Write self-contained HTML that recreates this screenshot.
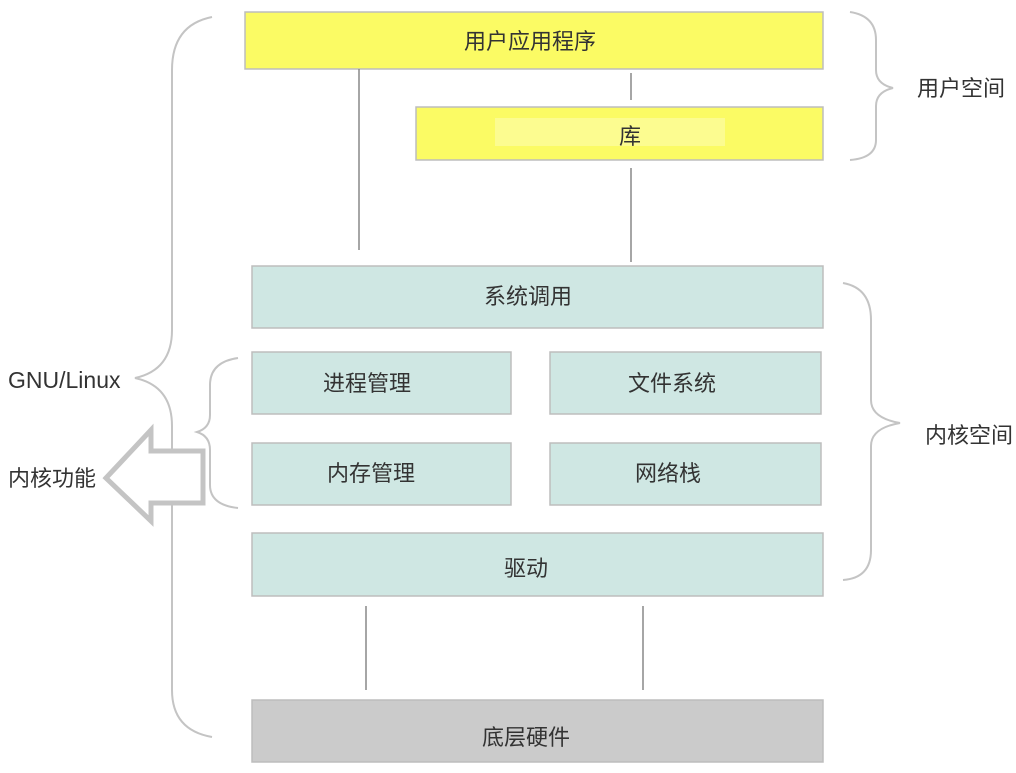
<!DOCTYPE html>
<html><head><meta charset="utf-8"><style>
html,body{margin:0;padding:0;background:#fff;width:1016px;height:773px;overflow:hidden}
svg text{font-family:"Liberation Sans","Noto Sans CJK SC",sans-serif;fill:#333;font-size:22px}
</style></head><body>
<svg width="1016" height="773" viewBox="0 0 1016 773" xmlns="http://www.w3.org/2000/svg">
<g stroke="#bdbdbd" stroke-width="1.5">
<rect x="245" y="12" width="578" height="57" fill="#fbfb64"/>
<rect x="416" y="107" width="407" height="53" fill="#fbfb64"/>
<rect x="252" y="266" width="571" height="62" fill="#cfe7e3"/>
<rect x="252" y="352" width="259" height="62" fill="#cfe7e3"/>
<rect x="550" y="352" width="271" height="62" fill="#cfe7e3"/>
<rect x="252" y="443" width="259" height="62" fill="#cfe7e3"/>
<rect x="550" y="443" width="271" height="62" fill="#cfe7e3"/>
<rect x="252" y="533" width="571" height="63" fill="#cfe7e3"/>
<rect x="252" y="700" width="571" height="62" fill="#cbcbcb"/>
</g>
<rect x="495" y="118" width="230" height="28" fill="#fcfc90"/>
<g stroke="#888" stroke-width="1.5">
<line x1="359" y1="69" x2="359" y2="250"/>
<line x1="631" y1="73" x2="631" y2="100"/>
<line x1="631" y1="168" x2="631" y2="262"/>
<line x1="366" y1="606" x2="366" y2="690"/>
<line x1="643" y1="606" x2="643" y2="690"/>
</g>
<g fill="none" stroke="#c4c4c4" stroke-width="2">
<path d="M212 17 Q172 25 172 70 L172 330 Q172 370 135 378 Q172 386 172 426 L172 690 Q172 730 212 737"/>
<path d="M238 358 Q210 362 210 385 L210 415 Q210 428 197 432 Q210 436 210 450 L210 485 Q210 505 238 508"/>
<path d="M850 12 Q876 16 876 40 L876 70 Q876 84 893 88 Q876 92 876 106 L876 140 Q876 158 850 160"/>
<path d="M843 283 Q871 288 871 320 L871 400 Q871 418 900 423 Q871 428 871 446 L871 550 Q871 578 843 580"/>
</g>
<path d="M106 478 L151 430 L151 451 L203 451 L203 503 L151 503 L151 521 Z" fill="#fff" stroke="#c4c4c4" stroke-width="5" stroke-linejoin="miter"/>
<g text-anchor="middle">
<text x="530" y="49">用户应用程序</text>
<text x="630" y="144">库</text>
<text x="528" y="304">系统调用</text>
<text x="367" y="391">进程管理</text>
<text x="672" y="391">文件系统</text>
<text x="371" y="481">内存管理</text>
<text x="668" y="481">网络栈</text>
<text x="526" y="576">驱动</text>
<text x="526" y="745">底层硬件</text>
</g>
<text x="8" y="388" style="font-size:23px">GNU/Linux</text>
<text x="8" y="486">内核功能</text>
<text x="917" y="96">用户空间</text>
<text x="925" y="443">内核空间</text>
</svg>
</body></html>
